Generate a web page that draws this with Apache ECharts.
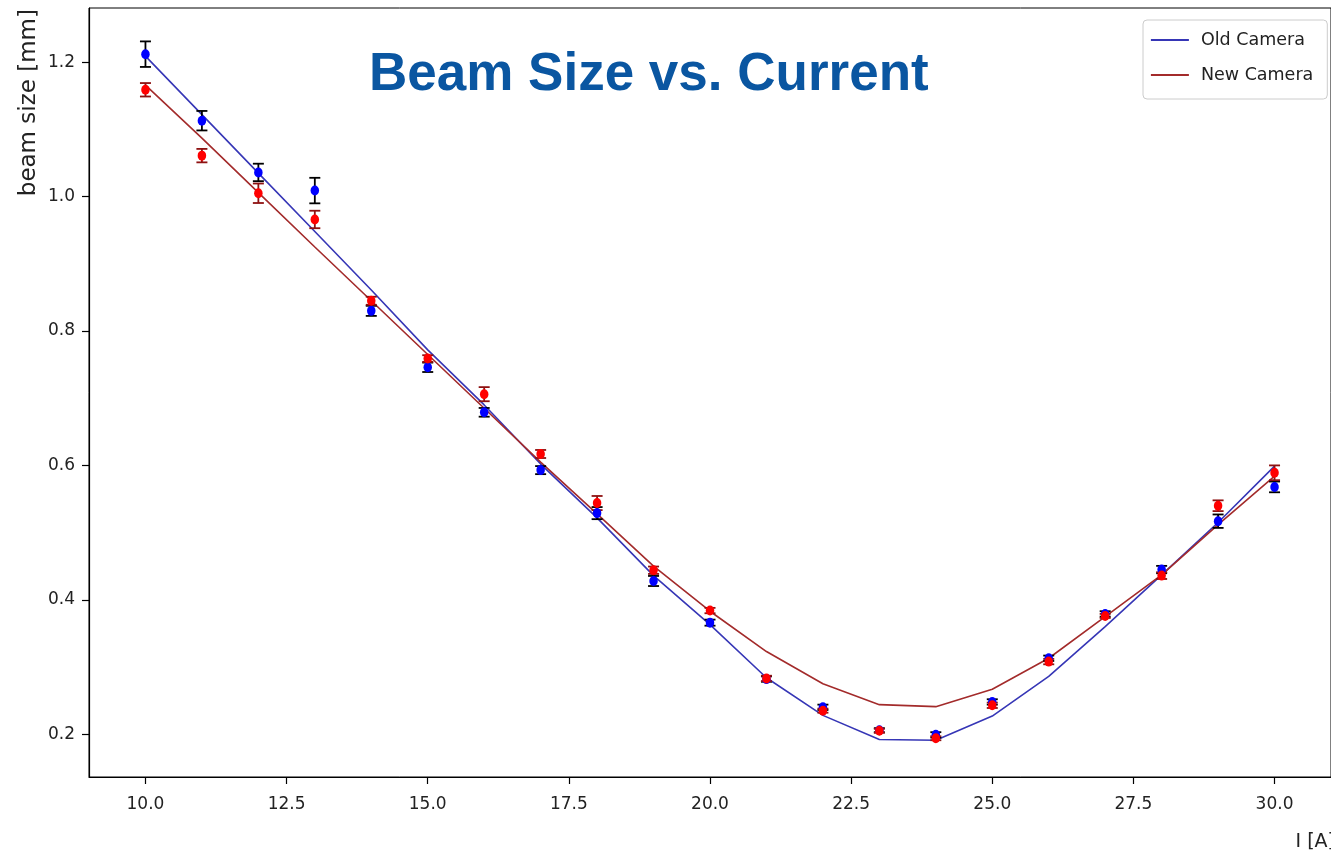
<!DOCTYPE html>
<html>
<head>
<meta charset="utf-8">
<title>Beam Size vs. Current</title>
<script src="https://cdn.jsdelivr.net/npm/echarts@6/dist/echarts.min.js"></script>
<style>
  html, body { margin: 0; padding: 0; background: #ffffff; }
  #chart { width: 1331px; height: 852px; }
</style>
</head>
<body>
<div id="chart"></div>
<script>
// Magnet current [A]
const current = [10, 11, 12, 13, 14, 15, 16, 17, 18, 19, 20, 21, 22, 23, 24, 25, 26, 27, 28, 29, 30];

// Old camera: measured beam size [mm] and its uncertainty
const oldSize = [1.212, 1.113, 1.036, 1.009, 0.830, 0.746, 0.679, 0.593, 0.529, 0.428, 0.366, 0.282, 0.240, 0.206, 0.199, 0.248, 0.313, 0.379, 0.445, 0.517, 0.568];
const oldErr  = [0.019, 0.0145, 0.013, 0.019, 0.0075, 0.007, 0.0065, 0.006, 0.009, 0.0075, 0.0045, 0.004, 0.004, 0.003, 0.004, 0.004, 0.004, 0.004, 0.0055, 0.010, 0.008];
// Old camera: fitted model
const oldFit  = [1.209, 1.122, 1.035, 0.948, 0.861, 0.772, 0.690, 0.602, 0.522, 0.436, 0.363, 0.284, 0.228, 0.192, 0.191, 0.227, 0.286, 0.360, 0.437, 0.515, 0.599];

// New camera: measured beam size [mm] and its uncertainty
const newSize = [1.159, 1.061, 1.005, 0.966, 0.845, 0.759, 0.706, 0.617, 0.544, 0.444, 0.384, 0.283, 0.235, 0.205, 0.194, 0.243, 0.308, 0.376, 0.436, 0.540, 0.589];
const newErr  = [0.010, 0.010, 0.0145, 0.013, 0.006, 0.005, 0.0105, 0.006, 0.0105, 0.0055, 0.004, 0.004, 0.003, 0.003, 0.003, 0.004, 0.004, 0.003, 0.005, 0.008, 0.011];
// New camera: fitted model
const newFit  = [1.166, 1.087, 1.006, 0.925, 0.845, 0.765, 0.685, 0.605, 0.528, 0.450, 0.383, 0.323, 0.275, 0.244, 0.241, 0.267, 0.313, 0.375, 0.437, 0.512, 0.584];

// Tick positions
const xTicks = [10, 12.5, 15, 17.5, 20, 22.5, 25, 27.5, 30];
const yTicks = [0.2, 0.4, 0.6, 0.8, 1.0, 1.2];

const OLD_LINE = '#3636b6';
const NEW_LINE = '#a32b2b';
const OLD_DOT = '#0000ff';
const NEW_DOT = '#ff0000';
const OLD_BAR = '#000000';
const NEW_BAR = '#8e1111';
const TEXT = '#222222';
const FONT = 'DejaVu Sans';

const zip = (xs, ys) => xs.map((x, i) => [x, ys[i]]);
const zip3 = (xs, ys, es) => xs.map((x, i) => [x, ys[i], es[i]]);

// Vertical error bar with caps, placed through the axes
function errorBar(color) {
  return function (params, api) {
    const x = api.value(0), y = api.value(1), e = api.value(2);
    const lo = api.coord([x, y - e]);
    const hi = api.coord([x, y + e]);
    const cap = 5.5;
    const style = { stroke: color, lineWidth: 1.8 };
    return {
      type: 'group',
      children: [
        { type: 'line', shape: { x1: lo[0], y1: lo[1], x2: hi[0], y2: hi[1] }, style },
        { type: 'line', shape: { x1: lo[0] - cap, y1: lo[1], x2: lo[0] + cap, y2: lo[1] }, style },
        { type: 'line', shape: { x1: hi[0] - cap, y1: hi[1], x2: hi[0] + cap, y2: hi[1] }, style }
      ]
    };
  };
}

const chart = echarts.init(document.getElementById('chart'), null, { renderer: 'canvas' });

chart.setOption({
  animation: false,
  backgroundColor: '#ffffff',
  title: {
    text: 'Beam Size vs. Current',
    left: 369,
    top: 49,
    padding: 0,
    textStyle: {
      fontFamily: 'Liberation Sans',
      fontWeight: 'bold',
      fontSize: 53,
      color: '#0a56a1'
    }
  },
  legend: {
    orient: 'vertical',
    left: 1143,
    top: 20,
    padding: [11, 14, 15, 7],
    itemWidth: 38,
    itemHeight: 17,
    itemGap: 17,
    backgroundColor: '#ffffff',
    borderColor: '#cccccc',
    borderWidth: 1,
    borderRadius: 4,
    data: ['Old Camera', 'New Camera'],
    // line-only keys: hide the marker symbol drawn on the line
    itemStyle: { opacity: 0 },
    lineStyle: { width: 1.8 },
    textStyle: { fontFamily: FONT, fontSize: 17.5, color: TEXT, padding: [0, 0, 0, 7] }
  },
  grid: {
    left: 89,
    top: 8,
    right: -4,
    bottom: 75,
    show: true,
    borderColor: '#000000',
    borderWidth: 1,
    backgroundColor: 'transparent'
  },
  xAxis: {
    type: 'value',
    min: 9,
    max: 31,
    splitLine: { show: false },
    axisLine: { show: true, lineStyle: { color: '#000000', width: 1.2 } },
    axisTick: { show: true, length: 7, lineStyle: { color: '#000000', width: 1.2 }, customValues: xTicks },
    axisLabel: {
      customValues: xTicks,
      formatter: v => v.toFixed(1),
      fontFamily: FONT, fontSize: 17, color: TEXT, margin: 19
    }
  },
  yAxis: {
    type: 'value',
    min: 0.1363,
    max: 1.2807,
    splitLine: { show: false },
    axisLine: { show: true, lineStyle: { color: '#000000', width: 1.2 } },
    axisTick: { show: true, length: 7, lineStyle: { color: '#000000', width: 1.2 }, customValues: yTicks },
    axisLabel: {
      customValues: yTicks,
      formatter: v => v.toFixed(1),
      fontFamily: FONT, fontSize: 17, color: TEXT, margin: 14
    }
  },
  graphic: [
    {
      type: 'text',
      x: 29, y: 9,
      rotation: Math.PI / 2,
      style: {
        text: 'beam size [mm]',
        fontFamily: FONT, fontSize: 23, fill: TEXT,
        align: 'right', verticalAlign: 'middle'
      }
    },
    {
      type: 'text',
      x: 1335, y: 842,
      style: {
        text: 'I [A]',
        fontFamily: FONT, fontSize: 19, fill: TEXT,
        align: 'right', verticalAlign: 'middle'
      }
    }
  ],
  series: [
    {
      name: 'Old Camera',
      type: 'line',
      data: zip(current, oldFit),
      symbol: 'none',
      lineStyle: { color: OLD_LINE, width: 1.6 },
      itemStyle: { color: OLD_LINE },
      z: 2
    },
    {
      name: 'New Camera',
      type: 'line',
      data: zip(current, newFit),
      symbol: 'none',
      lineStyle: { color: NEW_LINE, width: 1.6 },
      itemStyle: { color: NEW_LINE },
      z: 2
    },
    {
      name: 'Old Camera error',
      type: 'custom',
      data: zip3(current, oldSize, oldErr),
      renderItem: errorBar(OLD_BAR),
      z: 3
    },
    {
      name: 'Old Camera points',
      type: 'scatter',
      data: zip(current, oldSize),
      symbol: 'circle',
      symbolSize: [8.5, 10],
      itemStyle: { color: OLD_DOT, opacity: 1 },
      z: 3
    },
    {
      name: 'New Camera error',
      type: 'custom',
      data: zip3(current, newSize, newErr),
      renderItem: errorBar(NEW_BAR),
      z: 3
    },
    {
      name: 'New Camera points',
      type: 'scatter',
      data: zip(current, newSize),
      symbol: 'circle',
      symbolSize: [8.5, 10],
      itemStyle: { color: NEW_DOT, opacity: 1 },
      z: 3
    }
  ]
});
</script>
</body>
</html>
